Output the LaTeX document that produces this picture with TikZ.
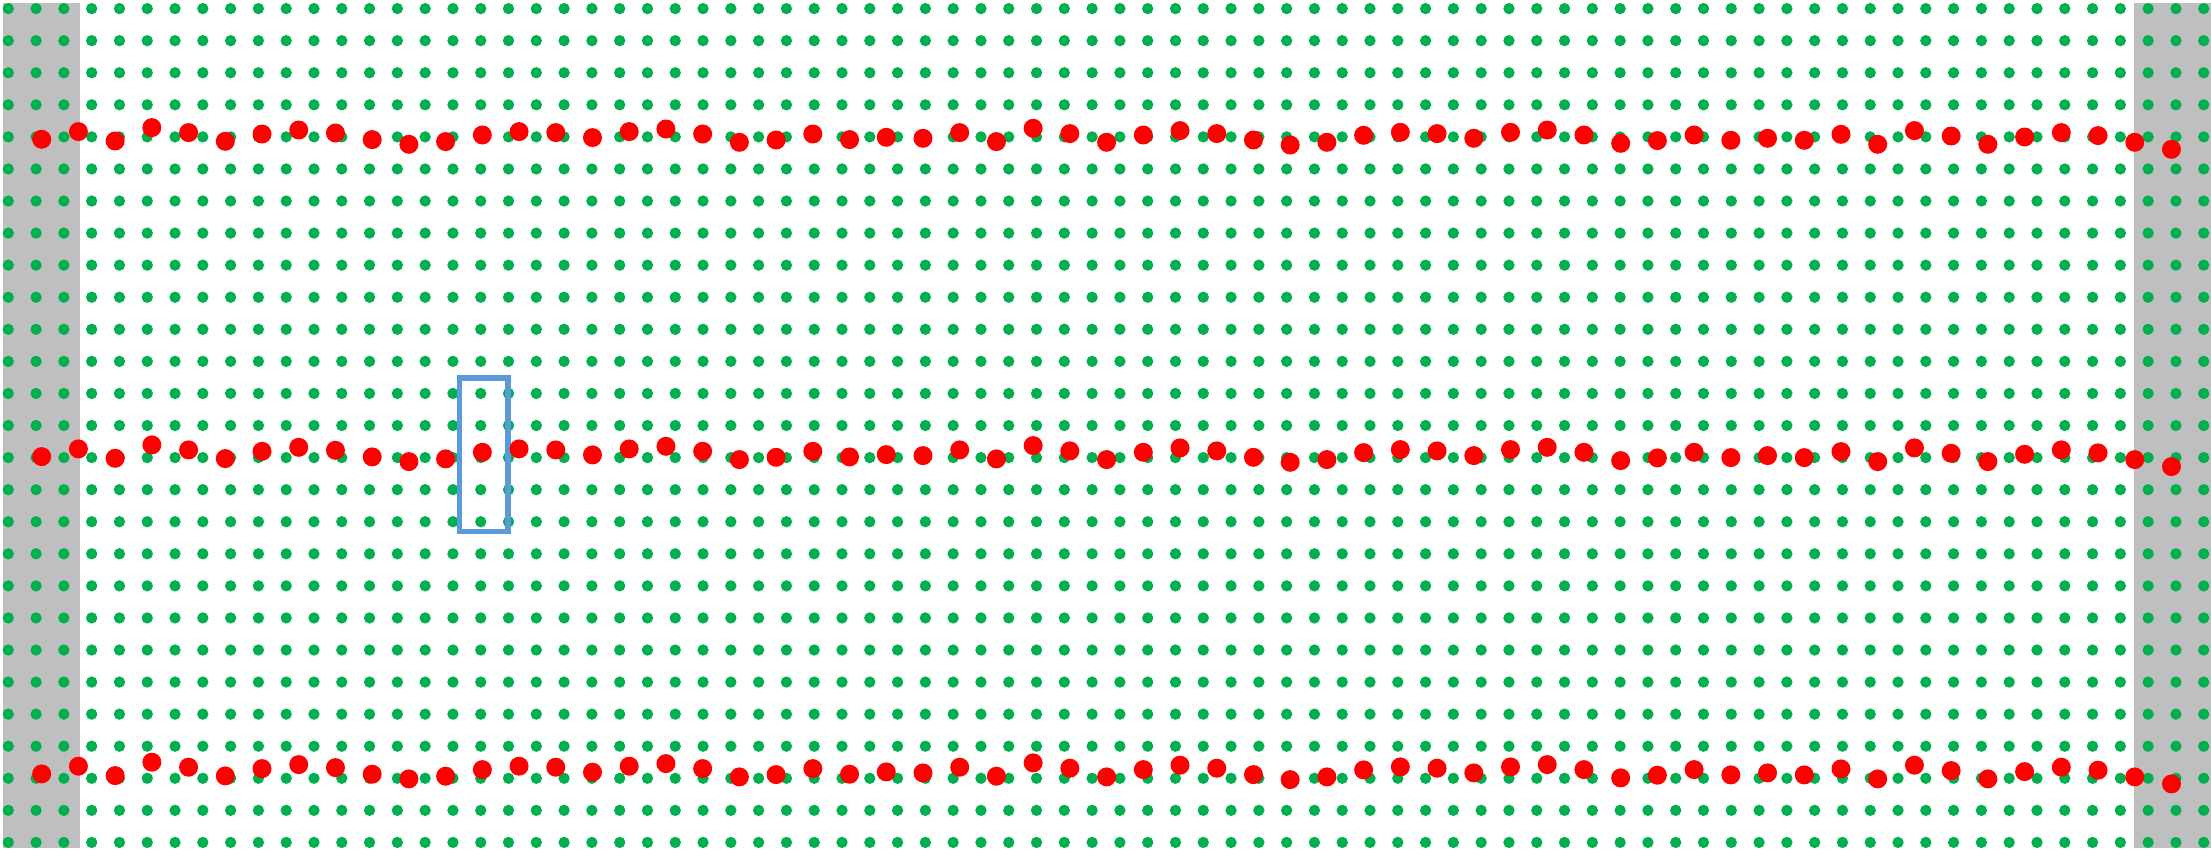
\documentclass[tikz,border=0pt]{standalone}
\usepackage{tikz}
\definecolor{bandgray}{HTML}{BFBFBF}
\definecolor{gridgreen}{HTML}{00B050}
\definecolor{driftred}{HTML}{FF0000}
\definecolor{probeblue}{HTML}{5B9BD5}

\begin{document}
\begin{tikzpicture}[
  x=0.3mm, y=-0.3mm,
  band/.style={fill=bandgray},
  griddot/.style={fill=gridgreen},
  driftdot/.style={fill=driftred},
  probe/.style={draw=probeblue, line width=1.6mm},
]
  \useasboundingbox (0,0) rectangle (2211,851);
  % side bands
  \fill[band] (3,3) rectangle (80,848);
  \fill[band] (2134,3) rectangle (2211,848);
  % regular lattice
  \foreach \i in {0,...,79}
    \foreach \j in {0,...,26}
      \fill[griddot] (8.3+\i*27.79, 8.6+\j*32.07) circle[radius=1.7mm];
  % probe window
  \draw[probe] (459.3,378) rectangle (508,531.3);
  % displaced rows
  \foreach \r in {0,1,2}
    \foreach \d [count=\i from 0] in {2,-5.7,3.7,-9.7,-4.7,4,-3.3,-7.3,-4.3,2.3,
        7,4.3,-2.3,-5.7,-4.7,0.3,-5.7,-8.3,-3.3,5,
        2.7,-3.3,2.3,0,1,-4.7,4.3,-9,-3.7,5,
        -2.3,-6.7,-3.7,2.7,7.7,5,-2,-5,-3.7,1,
        -5,-7.3,-2.3,6,3.3,-2.3,3,1,3,-3,
        7,-6.7,-1.3,7,-0.3,-4.7,-1.7,5,12}
      \fill[driftdot] (41.7+\i*36.72, 137.3+\r*317.3+\d) circle[radius=2.85mm];
\end{tikzpicture}
\end{document}
